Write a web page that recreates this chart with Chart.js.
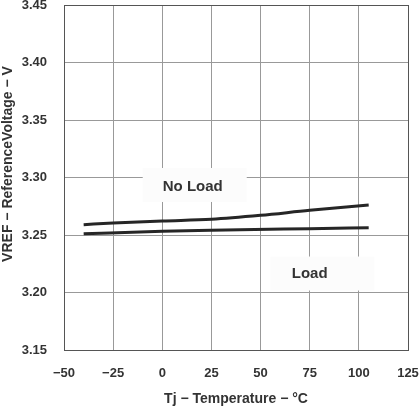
<!DOCTYPE html>
<html>
<head>
<meta charset="utf-8">
<script src="https://cdn.jsdelivr.net/npm/chart.js@4/dist/chart.umd.min.js"></script>
<style>
  html, body { margin: 0; padding: 0; background: #fff; }
  #wrap { width: 420px; height: 407px; }
</style>
</head>
<body>
<div id="wrap"><canvas id="myChart"></canvas></div>
<script>
// temperatures (°C) and reference voltage (V)
let noLoadTemp = [-40, -25, 0, 25, 50, 75, 105];
let noLoadVref = [3.259, 3.2604, 3.2622, 3.2637, 3.2671, 3.2715, 3.276];
let loadTemp = [-40, 0, 25, 75, 105];
let loadVref = [3.2511, 3.2532, 3.2541, 3.2555, 3.2563];

let xTicks = [-50, -25, 0, 25, 50, 75, 100, 125];
let yTicks = [3.15, 3.20, 3.25, 3.30, 3.35, 3.40, 3.45];

let xTitle = 'Tj \u2212 Temperature \u2212 \u00b0C';
let yTitle = 'VREF \u2212 ReferenceVoltage \u2212 V';

// in-plot labels: text, text anchor and white box (in data units)
let notes = [
  { text: 'No Load', tx: 15.5, ty: 3.2915, bx: 16.5, by: 3.2935 },
  { text: 'Load', tx: 75, ty: 3.2165, bx: 81.5, by: 3.2165 }
];

const ink = '#333';
const font = "'Liberation Sans', Arial, sans-serif";

function pts(xs, ys) {
  return xs.map((x, i) => ({ x: x, y: ys[i] }));
}

function noPad(s) {
  s.paddingTop = 0; s.paddingBottom = 0; s.paddingLeft = 0; s.paddingRight = 0;
}

// grid lines covered by the white label boxes, plus the rotated y title
const notesPlugin = {
  id: 'notes',
  beforeDatasetsDraw(chart) {
    let c = chart.ctx, xs = chart.scales.x, ys = chart.scales.y;
    c.save();
    c.fillStyle = '#fcfcfc';
    notes.forEach(n => {
      let cx = xs.getPixelForValue(n.bx), cy = ys.getPixelForValue(n.by);
      c.fillRect(cx - 52, cy - 17, 104, 34);
    });
    c.restore();
  },
  afterDraw(chart) {
    let c = chart.ctx, xs = chart.scales.x, ys = chart.scales.y;
    c.save();
    c.fillStyle = ink;
    c.textAlign = 'center';
    c.textBaseline = 'middle';
    c.font = 'bold 15px ' + font;
    notes.forEach(n => {
      c.fillText(n.text, xs.getPixelForValue(n.tx), ys.getPixelForValue(n.ty));
    });
    c.font = 'bold 14px ' + font;
    c.translate(8.5, 164);
    c.rotate(-Math.PI / 2);
    c.fillText(yTitle, 0, 0);
    c.restore();
  }
};

let ctx = document.getElementById('myChart').getContext('2d');
let myChart = new Chart(ctx, {
  type: 'line',
  data: {
    datasets: [
      { label: 'No Load', data: pts(noLoadTemp, noLoadVref) },
      { label: 'Load', data: pts(loadTemp, loadVref) }
    ]
  },
  options: {
    responsive: true,
    maintainAspectRatio: false,
    animation: false,
    devicePixelRatio: 1,
    layout: { padding: { top: 5, right: 12, left: 0, bottom: 0 } },
    elements: {
      line: { borderColor: '#262626', borderWidth: 3, cubicInterpolationMode: 'monotone' },
      point: { radius: 0 }
    },
    plugins: {
      legend: { display: false },
      tooltip: { enabled: false }
    },
    scales: {
      x: {
        type: 'linear',
        min: -50,
        max: 125,
        afterBuildTicks: s => { s.ticks = xTicks.map(v => ({ value: v })); },
        afterFit: s => { s.height = 57; noPad(s); },
        grid: {
          drawTicks: false,
          color: c => (c.index === 0 || c.index === xTicks.length - 1) ? '#555' : '#999'
        },
        border: { color: '#555', width: 1 },
        ticks: {
          padding: 16,
          color: ink,
          font: { family: font, size: 13, weight: 'bold' },
          callback: v => (v < 0 ? '\u2212' + Math.abs(v) : '' + v)
        },
        title: {
          display: true,
          text: xTitle,
          color: ink,
          padding: { top: 4, bottom: -1 },
          font: { family: font, size: 14, weight: 'bold' }
        }
      },
      y: {
        type: 'linear',
        min: 3.15,
        max: 3.45,
        afterBuildTicks: s => { s.ticks = yTicks.map(v => ({ value: v })); },
        afterFit: s => { s.width = 64; noPad(s); },
        grid: {
          drawTicks: false,
          color: c => (c.index === 0 || c.index === yTicks.length - 1) ? '#555' : '#999'
        },
        border: { color: '#555', width: 1 },
        ticks: {
          padding: 17,
          color: ink,
          font: { family: font, size: 13, weight: 'bold' },
          callback: v => v.toFixed(2)
        }
      }
    }
  },
  plugins: [notesPlugin]
});
</script>
</body>
</html>
